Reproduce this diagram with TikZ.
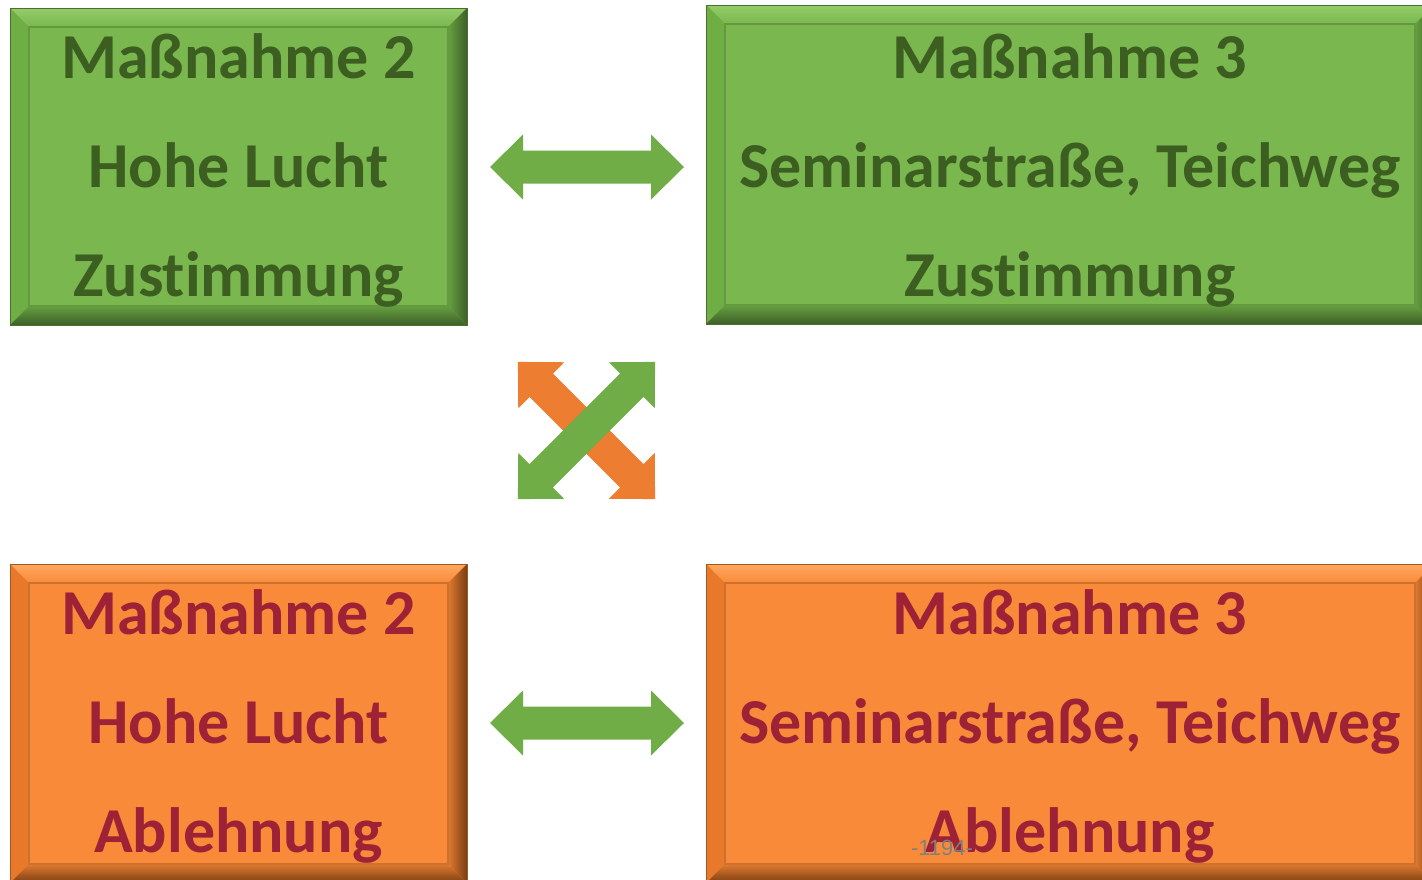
\documentclass[tikz,border=0pt]{standalone}
\usepackage{fontspec}
\setmainfont{Carlito}[Ligatures=NoCommon]
\newfontfamily\pgnumfont{Liberation Sans}
\definecolor{gfill}{HTML}{7AB74F}
\definecolor{gtext}{HTML}{3C5F21}
\definecolor{glight}{HTML}{93CD68}
\definecolor{gleft}{HTML}{6FAE45}
\definecolor{gdk1}{HTML}{66A040}
\definecolor{gdk2}{HTML}{3F5F28}
\definecolor{gline}{HTML}{65993F}
\definecolor{gedge}{HTML}{4A7030}
\definecolor{ofill}{HTML}{F98A3A}
\definecolor{otext}{HTML}{9E2236}
\definecolor{olight}{HTML}{FFA860}
\definecolor{oleft}{HTML}{E8782A}
\definecolor{odk1}{HTML}{E07A30}
\definecolor{odk2}{HTML}{7A3E12}
\definecolor{oline}{HTML}{CC722E}
\definecolor{oedge}{HTML}{A05A20}
\definecolor{agreen}{HTML}{70AD47}
\definecolor{aorange}{HTML}{ED7D31}
\definecolor{pggray}{HTML}{808080}
\newcommand\bevelpic[7]{%
 \coordinate (pA) at (path picture bounding box.north west);
 \coordinate (pB) at (path picture bounding box.north east);
 \coordinate (pC) at (path picture bounding box.south east);
 \coordinate (pD) at (path picture bounding box.south west);
 \coordinate (qA) at ([shift={(19pt,-19pt)}]pA);
 \coordinate (qB) at ([shift={(-19pt,-19pt)}]pB);
 \coordinate (qC) at ([shift={(-19pt,19pt)}]pC);
 \coordinate (qD) at ([shift={(19pt,19pt)}]pD);
 \shade[top color=#1, bottom color=#2] (pA) -- (pB) -- (qB) -- (qA) -- cycle;
 \fill[#3] (pA) -- (qA) -- (qD) -- (pD) -- cycle;
 \shade[left color=#4, right color=#5] (pB) -- (pC) -- (qC) -- (qB) -- cycle;
 \shade[top color=#4, bottom color=#5] (pD) -- (qD) -- (qC) -- (pC) -- cycle;
 \draw[#6, line width=#7] (qA) rectangle (qC);
}
\newcommand\dblarrowpath{(-97,0) -- (-64,-32.5) -- (-64,-16.5) -- (64,-16.5) -- (64,-32.5) -- (97,0) -- (64,32.5) -- (64,16.5) -- (-64,16.5) -- (-64,32.5) -- cycle}
\tikzset{
 boxbase/.style={inner sep=0pt, line width=1pt},
 gbox/.style={boxbase, draw=gedge, fill=gfill,
   path picture={\bevelpic{glight}{gfill}{gleft}{gdk1}{gdk2}{gline}{1.2pt}}},
 obox/.style={boxbase, draw=oedge, fill=ofill,
   path picture={\bevelpic{olight}{ofill}{oleft}{odk1}{odk2}{oline}{1.2pt}}},
 btext/.style={inner sep=0pt, align=center, font=\bfseries\fontsize{64}{109}\selectfont},
 gtxt/.style={btext, text=gtext},
 otxt/.style={btext, text=otext},
 narrow/.style={minimum width=457pt},
 wide/.style={minimum width=728pt},
}
\begin{document}
\begin{tikzpicture}[x=1pt,y=-1pt]
\useasboundingbox (0,0) rectangle (1422,879);
\fill[white] (0,0) rectangle (1422,879);
% boxes
\node[gbox, narrow, minimum height=317pt] (g2) at (238.5,166.5) {};
\node[gbox, wide, minimum height=319pt] (g3) at (1070,164.5) {};
\node[obox, narrow, minimum height=319pt] (o2) at (238.5,723.5) {};
\node[obox, wide, minimum height=319pt] (o3) at (1070,723.5) {};
% texts
\node[gtxt] (g2t) at ([yshift=-4pt]g2.center) {Maßnahme 2\\Hohe Lucht\\Zustimmung};
\node[gtxt] (g3t) at ([yshift=-6pt]g3.center) {Maßnahme 3\\Seminarstraße, Teichweg\\Zustimmung};
\node[otxt] (o2t) at ([yshift=-3pt]o2.center) {Maßnahme 2\\Hohe Lucht\\Ablehnung};
\node[otxt] (o3t) at ([yshift=-3pt]o3.center) {Maßnahme 3\\Seminarstraße, Teichweg\\Ablehnung};
% horizontal double arrows
\coordinate (ha) at (587,167);
\coordinate (hb) at (587,723);
\coordinate (xc) at (586.5,430.5);
\begin{scope}[shift={(ha)}]
  \fill[agreen] \dblarrowpath;
\end{scope}
\begin{scope}[shift={(hb)}]
  \fill[agreen] \dblarrowpath;
\end{scope}
% crossing arrows
\begin{scope}[shift={(xc)}, rotate=-45]
  \fill[aorange] \dblarrowpath;
\end{scope}
\begin{scope}[shift={(xc)}, rotate=45]
  \fill[agreen] \dblarrowpath;
\end{scope}
% page number
\node[text=pggray, font=\pgnumfont\fontsize{22}{24}\selectfont, inner sep=0pt] (pg) at (942,848) {-1194-};
\end{tikzpicture}
\end{document}
